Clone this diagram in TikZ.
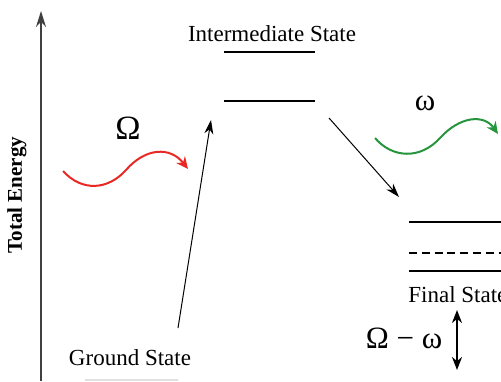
\documentclass[tikz,border=0pt]{standalone}
\usepackage{fontspec}
\setmainfont{Liberation Serif}
\usetikzlibrary{arrows.meta, positioning}
\definecolor{photonred}{RGB}{232,40,36}
\definecolor{photongreen}{RGB}{38,150,62}
\tikzset{
  axis/.style={-{Stealth[length=8pt,width=5pt]}, line width=0.8pt, draw=black!75},
  level/.style={line width=1.1pt, draw=black},
  virtuallevel/.style={level, dash pattern=on 4pt off 2.4pt},
  transition/.style={-{Stealth[length=7pt,width=4.5pt]}, line width=0.5pt},
  photon/.style={-{Stealth[length=6pt,width=5.5pt]}, line width=1pt, draw=#1},
  diffarrow/.style={{Stealth[length=6.5pt,width=5pt]}-{Stealth[length=6.5pt,width=5pt]}, line width=1.1pt},
  statelabel/.style={inner sep=0pt, font=\fontsize{11.5}{13}\selectfont},
  freqlabel/.style={inner sep=0pt, font=\fontsize{15.5}{17}\selectfont}
}

\begin{document}
\begin{tikzpicture}[x=0.5pt, y=-0.5pt]
  \useasboundingbox (0,0) rectangle (501,381);
  \clip (0,0) rectangle (501,381);

  % energy axis
  \coordinate (axisbot) at (41,381);
  \coordinate (axistop) at (41,11);
  \draw[axis] (axisbot) -- (axistop);
  \node[statelabel, font=\fontsize{10.5}{12}\selectfont\bfseries, rotate=90] (energy) at (17,195) {Total Energy};

  % intermediate state
  \node[statelabel] (intlabel) at (272,34) {Intermediate State};
  \coordinate (intupl) at (224,52);  \coordinate (intupr) at (315,52);
  \coordinate (intlol) at (224,101); \coordinate (intlor) at (315,101);
  \draw[level] (intupl) -- (intupr);
  \draw[level] (intlol) -- (intlor);

  % final state
  \coordinate (fin1l) at (409,222); \coordinate (fin1r) at (505,222);
  \coordinate (fin2l) at (409,253); \coordinate (fin2r) at (505,253);
  \coordinate (fin3l) at (409,271); \coordinate (fin3r) at (505,271);
  \draw[level] (fin1l) -- (fin1r);
  \draw[virtuallevel] (fin2l) -- (fin2r);
  \draw[level] (fin3l) -- (fin3r);
  \node[statelabel, anchor=west] (finlabel) at (408,295) {Final State};

  % ground state
  \node[statelabel] (gndlabel) at (130,358) {Ground State};
  \coordinate (gndl) at (85,380); \coordinate (gndr) at (178,380);
  \draw[line width=0.8pt, draw=black!12] (gndl) -- (gndr);

  % transitions
  \coordinate (upstart) at (178,328); \coordinate (upend) at (211,120);
  \draw[transition] (upstart) -- (upend);
  \coordinate (downstart) at (329,118); \coordinate (downend) at (399,197);
  \draw[transition] (downstart) -- (downend);

  % photons
  \node[freqlabel, font=\fontsize{17}{19}\selectfont] (bigomega) at (128,128) {Ω};
  \coordinate (redstart) at (63,171); \coordinate (redend) at (188,169);
  \draw[photon=photonred] (redstart) .. controls (82,192) and (108,190) .. (126,170)
    .. controls (145,148) and (170,146) .. (redend);
  \node[freqlabel] (smallomega) at (425,103) {ω};
  \coordinate (greenstart) at (375,138); \coordinate (greenend) at (498,134);
  \draw[photon=photongreen] (greenstart) .. controls (392,158) and (420,160) .. (440,138)
    .. controls (460,116) and (484,114) .. (greenend);

  % energy difference
  \node[freqlabel] (difflabel) at (404,338) {Ω − ω};
  \coordinate (difftop) at (457,310); \coordinate (diffbot) at (457,370);
  \draw[diffarrow] (diffbot) -- (difftop);
\end{tikzpicture}
\end{document}
